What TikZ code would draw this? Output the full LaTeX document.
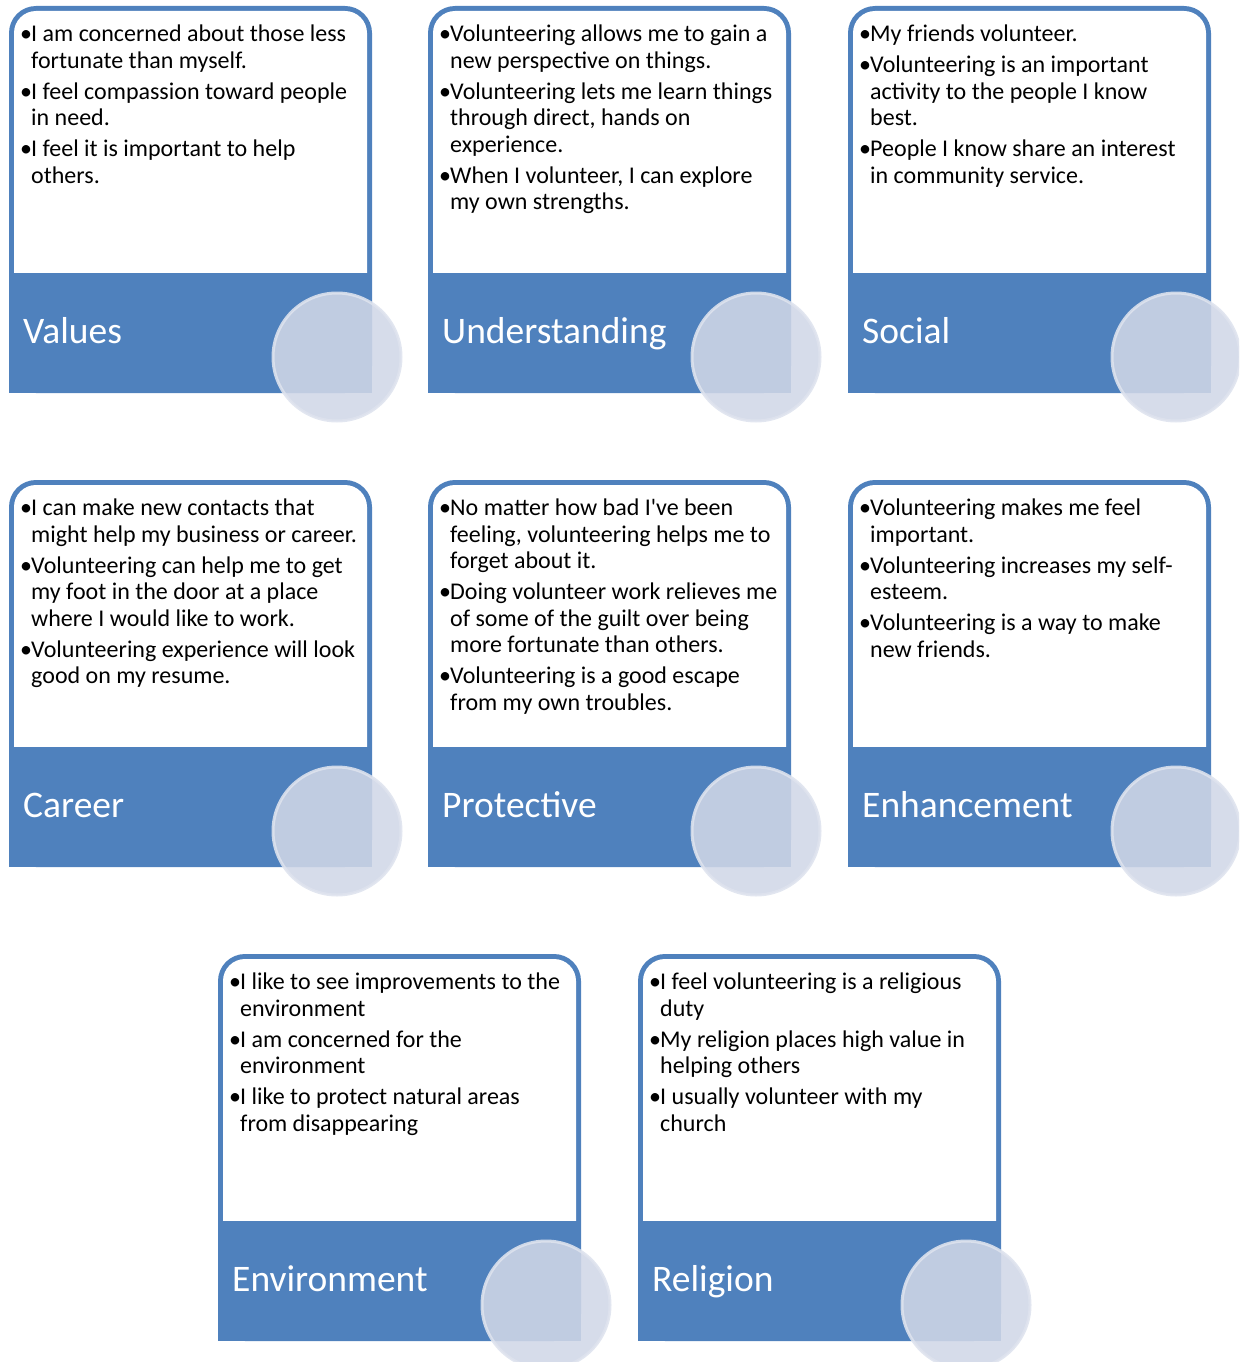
\documentclass[tikz,border=0pt]{standalone}
\usepackage{fontspec}
\setmainfont{Carlito}
\definecolor{cardblue}{RGB}{79,129,189}
\definecolor{discfill}{RGB}{208,215,231}
\definecolor{discring}{RGB}{222,227,238}
\tikzset{
  cardtitle/.style={anchor=base west, inner sep=0pt, text=white, font=\fontsize{37.5}{40}\selectfont},
  cardtext/.style={anchor=north west, inner sep=0pt, align=left, font=\fontsize{24}{26.5}\selectfont},
  disc/.style={fill=discfill, draw=discring, line width=3pt, opacity=0.88}
}
\newcommand\itm{\leavevmode\llap{\makebox[11pt][l]{\textbullet}}}
% one card: left, top, name, title, bullet lines
\newcommand\vcard[5]{
  \fill[cardblue, rounded corners=27pt] (#1,#2) rectangle (#1+363,#2+387);
  \fill[white, rounded corners=22pt] (#1+5,#2+5) rectangle (#1+358,#2+300);
  \fill[cardblue] (#1,#2+267) rectangle (#1+363,#2+387);
  \node[cardtext] (#3-text) at (#1+22,#2+19) {#5};
  \node[cardtitle] (#3-title) at (#1+14,#2+337) {#4};
  \draw[disc] (#1+328,#2+351) circle (64);
}

\begin{document}
\begin{tikzpicture}[x=1pt,y=-1pt]
\clip (0,0) rectangle (1239,1362);

\vcard{9}{6}{values}{Values}{%
\itm I am concerned about those less\\ fortunate than myself.\\[4.5pt]
\itm I feel compassion toward people\\ in need.\\[4.5pt]
\itm I feel it is important to help\\ others.}

\vcard{428}{6}{understanding}{Understanding}{%
\itm Volunteering allows me to gain a\\ new perspective on things.\\[4.5pt]
\itm Volunteering lets me learn things\\ through direct, hands on\\ experience.\\[4.5pt]
\itm When I volunteer, I can explore\\ my own strengths.}

\vcard{848}{6}{social}{Social}{%
\itm My friends volunteer.\\[4.5pt]
\itm Volunteering is an important\\ activity to the people I know\\ best.\\[4.5pt]
\itm People I know share an interest\\ in community service.}

\vcard{9}{480}{career}{Career}{%
\itm I can make new contacts that\\ might help my business or career.\\[4.5pt]
\itm Volunteering can help me to get\\ my foot in the door at a place\\ where I would like to work.\\[4.5pt]
\itm Volunteering experience will look\\ good on my resume.}

\vcard{428}{480}{protective}{Protective}{%
\itm No matter how bad I\textquotesingle ve been\\ feeling, volunteering helps me to\\ forget about it.\\[4.5pt]
\itm Doing volunteer work relieves me\\ of some of the guilt over being\\ more fortunate than others.\\[4.5pt]
\itm Volunteering is a good escape\\ from my own troubles.}

\vcard{848}{480}{enhancement}{Enhancement}{%
\itm Volunteering makes me feel\\ important.\\[4.5pt]
\itm Volunteering increases my self-\\ esteem.\\[4.5pt]
\itm Volunteering is a way to make\\ new friends.}

\vcard{218}{954}{environment}{Environment}{%
\itm I like to see improvements to the\\ environment\\[4.5pt]
\itm I am concerned for the\\ environment\\[4.5pt]
\itm I like to protect natural areas\\ from disappearing}

\vcard{638}{954}{religion}{Religion}{%
\itm I feel volunteering is a religious\\ duty\\[4.5pt]
\itm My religion places high value in\\ helping others\\[4.5pt]
\itm I usually volunteer with my\\ church}

\end{tikzpicture}
\end{document}
